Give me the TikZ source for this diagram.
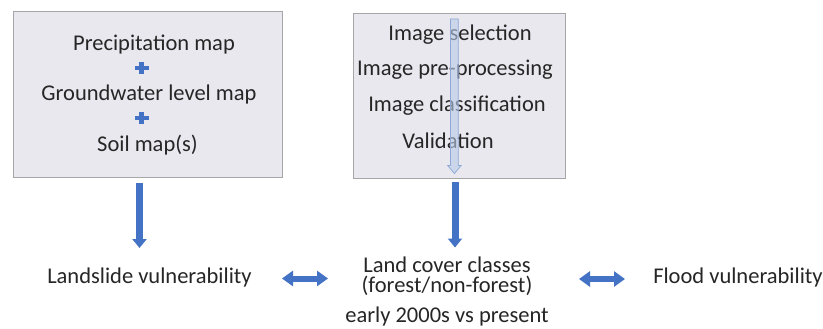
\documentclass[tikz,border=0pt]{standalone}
\usepackage{fontspec}
\setmainfont{Carlito}
\usetikzlibrary{arrows.meta}
\definecolor{boxfill}{HTML}{E8E8EE}
\definecolor{boxline}{HTML}{A6A6A6}
\definecolor{arrblue}{HTML}{4472C4}
\definecolor{lightarr}{HTML}{BACBE8}
\definecolor{lightarrline}{HTML}{8EA9D6}
\tikzset{
  box/.style={draw=boxline, line width=0.9pt, fill=boxfill, inner sep=0pt},
  txt/.style={anchor=base, inner sep=0pt, font=\fontsize{22.5}{27}\selectfont, text=black!85},
  downarrow/.style={draw=arrblue, line width=7pt, -{Triangle[width=14pt,length=9pt]}},
  twoway/.style={draw=arrblue, line width=6pt, {Triangle[width=15pt,length=11pt]}-{Triangle[width=15pt,length=11pt]}},
  plussign/.style={fill=arrblue},
}
\begin{document}
\begin{tikzpicture}[x=1pt,y=-1pt]
\fill[white] (0,0) rectangle (823,329);
\useasboundingbox (0,0) rectangle (823,329);

% boxes
\node[box, minimum width=269pt, minimum height=166pt] (lbox) at (147.5,94) {};
\node[box, minimum width=212pt, minimum height=165pt] (mbox) at (459,95.5) {};

% left box texts
\node[txt] (precip) at (154,51) {Precipitation map};
\node[txt] (ground) at (149,100) {Groundwater level map};
\node[txt] (soil) at (147.5,151) {Soil map(s)};
\fill[plussign] (134.5,65.8) rectangle (148.5,70.2);
\fill[plussign] (139.3,62) rectangle (143.7,74);
\fill[plussign] (134.5,115.8) rectangle (148.5,120.2);
\fill[plussign] (139.3,112) rectangle (143.7,124);

% middle box texts
\node[txt] (isel) at (460,41) {Image selection};
\node[txt] (ipre) at (455,76) {Image pre-processing};
\node[txt] (icls) at (457,112) {Image classification};
\node[txt] (ival) at (448,148) {Validation};

% inner light arrow
\filldraw[fill=lightarr, fill opacity=0.6, draw=lightarrline, line width=0.7pt]
  (450.5,19) -- (458.3,19) -- (458.3,165.5) -- (461.2,165.5) -- (454.4,173.5)
  -- (447.6,165.5) -- (450.5,165.5) -- cycle;

% bottom texts
\node[txt] (land) at (149.5,283) {Landslide vulnerability};
\node[txt] (lc1) at (447,272.5) {Land cover classes};
\node[txt] (lc2) at (447,292) {(forest/non-forest)};
\node[txt] (lc3) at (447,322.5) {early 2000s vs present};
\node[txt] (flood) at (738,283) {Flood vulnerability};

% connectors
\coordinate (la) at (139.5,183);
\coordinate (lb) at (139.5,248);
\coordinate (ma) at (455,182);
\coordinate (mb) at (455,247.5);
\draw[downarrow] (la) -- (lb);
\draw[downarrow] (ma) -- (mb);

\coordinate (d1a) at (282,278.5);
\coordinate (d1b) at (328,278.5);
\coordinate (d2a) at (579,279);
\coordinate (d2b) at (625,279);
\draw[twoway] (d1a) -- (d1b);
\draw[twoway] (d2a) -- (d2b);
\end{tikzpicture}
\end{document}
